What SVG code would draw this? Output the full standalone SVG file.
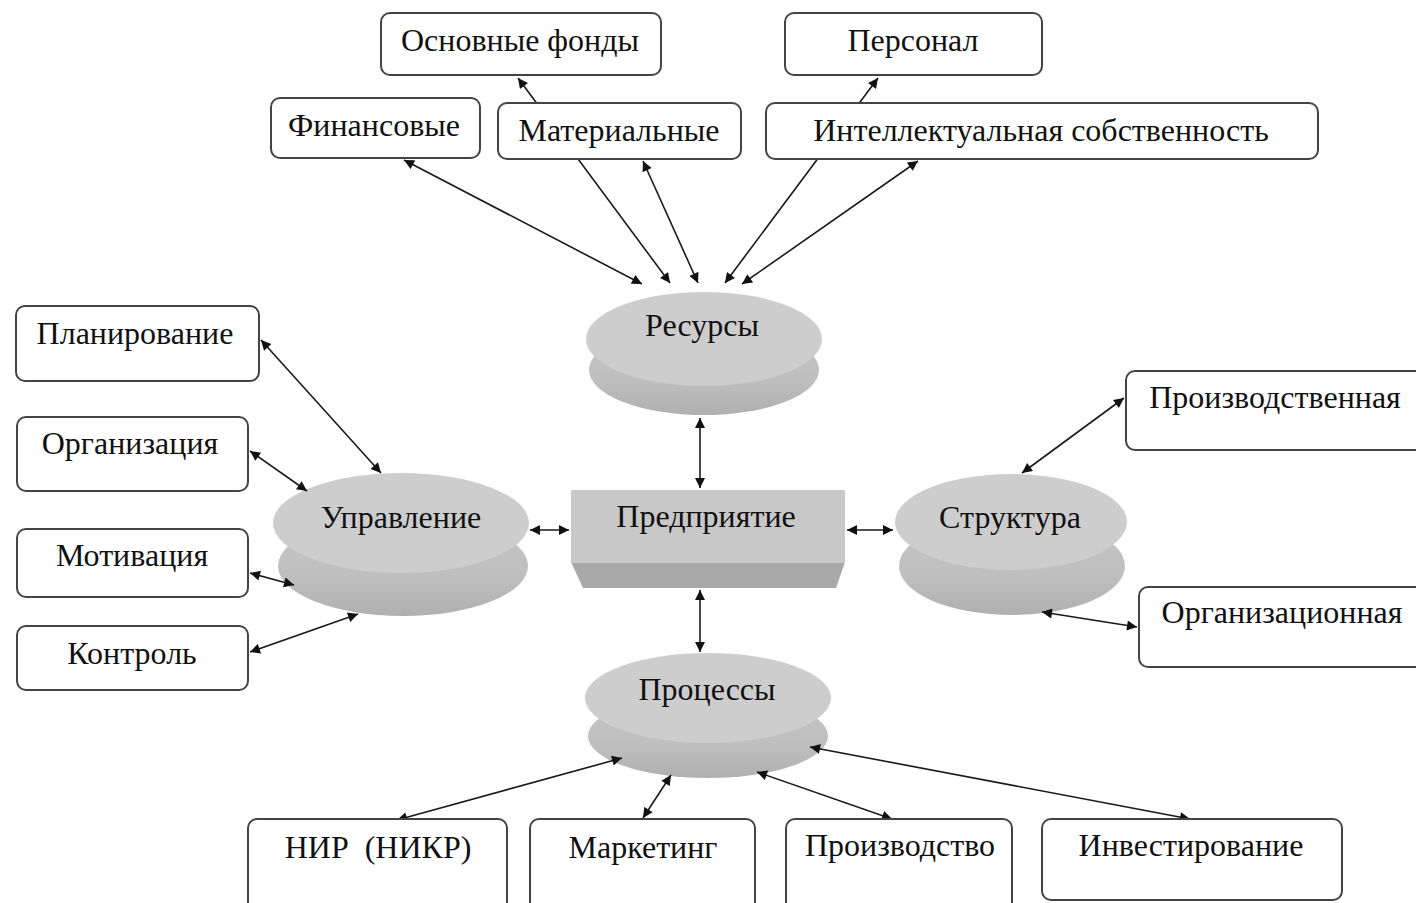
<svg xmlns="http://www.w3.org/2000/svg" width="1416" height="903" viewBox="0 0 1416 903">
<defs>
<style>
.box{fill:#fff;stroke:#444;stroke-width:2}
.t{font-family:"Liberation Serif","Times New Roman",serif;font-size:32px;fill:#111;text-anchor:middle;white-space:pre}
.top{fill:#cdcdcd}
.rim{fill:url(#rimg)}
.c{stroke:#1a1a1a;stroke-width:1.6;fill:none;marker-start:url(#ah);marker-end:url(#ah)}
</style>
<linearGradient id="rimg" x1="0" y1="0" x2="0" y2="1">
<stop offset="0" stop-color="#c6c6c6"/>
<stop offset="0.6" stop-color="#bfbfbf"/>
<stop offset="1" stop-color="#b0b0b0"/>
</linearGradient>
<marker id="ah" viewBox="0 0 10 10" refX="10" refY="5" markerWidth="11" markerHeight="10" markerUnits="userSpaceOnUse" orient="auto-start-reverse">
<path d="M0,0 L10,5 L0,10 z" fill="#111"/>
</marker>
</defs>
<rect width="1416" height="903" fill="#fff"/>

<g id="n-resursy"><ellipse class="rim" cx="704" cy="370" rx="115" ry="45"/><ellipse class="top" cx="704" cy="339" rx="118" ry="47"/><text class="t" x="702" y="336">Ресурсы</text></g>
<g id="n-upravlenie"><ellipse class="rim" cx="403" cy="566" rx="125" ry="50"/><ellipse class="top" cx="401" cy="523" rx="128" ry="50"/><text class="t" x="401" y="528">Управление</text></g>
<g id="n-predpriyatie"><polygon points="571,562 845,562 836,588 583,588" fill="#a9a9a9"/><rect x="571" y="490" width="274" height="73" fill="#c8c8c8"/><text class="t" x="706" y="527">Предприятие</text></g>
<g id="n-struktura"><ellipse class="rim" cx="1012" cy="566" rx="113" ry="49"/><ellipse class="top" cx="1011" cy="522" rx="116" ry="48"/><text class="t" x="1010" y="528">Структура</text></g>
<g id="n-protsessy"><ellipse class="rim" cx="708" cy="736" rx="120" ry="42"/><ellipse class="top" cx="708" cy="698" rx="123" ry="45"/><text class="t" x="707" y="700">Процессы</text></g>

<g id="connectors">
<line class="c" x1="518" y1="78" x2="670" y2="283"/>
<line class="c" x1="878" y1="78" x2="725" y2="283"/>
<line class="c" x1="404" y1="160" x2="642" y2="284"/>
<line class="c" x1="643" y1="161" x2="698" y2="283"/>
<line class="c" x1="918" y1="161" x2="742" y2="284"/>
<line class="c" x1="700" y1="418" x2="700" y2="488"/>
<line class="c" x1="700" y1="590" x2="700" y2="652"/>
<line class="c" x1="530" y1="530" x2="569" y2="530"/>
<line class="c" x1="847" y1="530" x2="893" y2="530"/>
<line class="c" x1="261" y1="340" x2="381" y2="473"/>
<line class="c" x1="250" y1="451" x2="307" y2="491"/>
<line class="c" x1="250" y1="573" x2="294" y2="585"/>
<line class="c" x1="250" y1="652" x2="358" y2="614"/>
<line class="c" x1="1124" y1="398" x2="1022" y2="473"/>
<line class="c" x1="1042" y1="612" x2="1137" y2="627"/>
<line class="c" x1="397" y1="820" x2="622" y2="758"/>
<line class="c" x1="643" y1="818" x2="671" y2="775"/>
<line class="c" x1="892" y1="819" x2="757" y2="772"/>
<line class="c" x1="1190" y1="819" x2="810" y2="747"/>
</g>

<g id="n-osnovnye"><rect class="box" x="381" y="13" width="280" height="62" rx="9"/><text class="t" x="520" y="51">Основные фонды</text></g>
<g id="n-personal"><rect class="box" x="785" y="13" width="257" height="62" rx="9"/><text class="t" x="913" y="51">Персонал</text></g>
<g id="n-finansovye"><rect class="box" x="271" y="98" width="209" height="60" rx="9"/><text class="t" x="374" y="136">Финансовые</text></g>
<g id="n-materialnye"><rect class="box" x="498" y="103" width="243" height="56" rx="9"/><text class="t" x="619" y="141">Материальные</text></g>
<g id="n-intellekt"><rect class="box" x="766" y="103" width="552" height="56" rx="9"/><text class="t" x="1041" y="141">Интеллектуальная собственность</text></g>

<g id="n-planirovanie"><rect class="box" x="16" y="306" width="243" height="75" rx="9"/><text class="t" x="135" y="344">Планирование</text></g>
<g id="n-organizatsiya"><rect class="box" x="17" y="417" width="231" height="74" rx="9"/><text class="t" x="130" y="454">Организация</text></g>
<g id="n-motivatsiya"><rect class="box" x="17" y="529" width="231" height="68" rx="9"/><text class="t" x="132" y="566">Мотивация</text></g>
<g id="n-kontrol"><rect class="box" x="17" y="626" width="231" height="64" rx="9"/><text class="t" x="132" y="664">Контроль</text></g>

<g id="n-proizvodstvennaya"><rect class="box" x="1126" y="371" width="300" height="79" rx="9"/><text class="t" x="1275" y="408">Производственная</text></g>
<g id="n-organizatsionnaya"><rect class="box" x="1139" y="587" width="290" height="80" rx="9"/><text class="t" x="1282" y="623">Организационная</text></g>

<g id="n-nir"><rect class="box" x="248" y="819" width="259" height="95" rx="9"/><text class="t" x="378" y="858">НИР  (НИКР)</text></g>
<g id="n-marketing"><rect class="box" x="530" y="819" width="225" height="95" rx="9"/><text class="t" x="643" y="858">Маркетинг</text></g>
<g id="n-proizvodstvo"><rect class="box" x="786" y="819" width="226" height="95" rx="9"/><text class="t" x="900" y="856">Производство</text></g>
<g id="n-investirovanie"><rect class="box" x="1042" y="819" width="300" height="81" rx="9"/><text class="t" x="1191" y="856">Инвестирование</text></g>
</svg>
